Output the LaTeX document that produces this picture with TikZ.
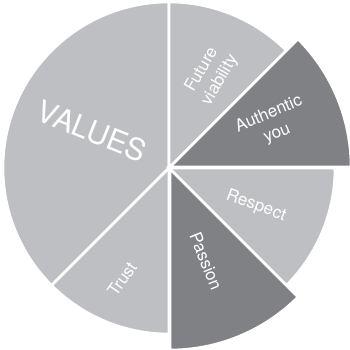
\documentclass[tikz,border=0pt]{standalone}
\usepackage{fontspec}
\setmainfont{TeX Gyre Heros}
\usepackage{tikz}
\definecolor{segpale}{RGB}{190, 191, 194}
\definecolor{segdark}{RGB}{128, 129, 133}

\tikzset{
	slice/.style={fill=#1, draw=white, line width=2.6pt, line join=miter},
	slicetext/.style={text=white, align=center, inner sep=0pt, font=\fontsize{17}{21}\selectfont}
}

\begin{document}
\begin{tikzpicture}[x=1pt, y=1pt]
	
	% --- Frame of the picture ---
	\useasboundingbox (0, 0) rectangle (350, 349);
	\clip (0, 0) rectangle (350, 349);
	\coordinate (hub) at (169, 181);
	
	% --- Pale slices ---
	\filldraw[slice=segpale] (hub) -- ++(90:166) arc[start angle=90, end angle=225, radius=166] -- cycle;
	\filldraw[slice=segpale] (hub) -- ++(225:166) arc[start angle=225, end angle=270, radius=166] -- cycle;
	\filldraw[slice=segpale] (hub) -- ++(45:166) arc[start angle=45, end angle=90, radius=166] -- cycle;
	\filldraw[slice=segpale] (hub) -- ++(-45:166) arc[start angle=-45, end angle=0, radius=166] -- cycle;
	
	% --- Dark slices, pulled out ---
	\filldraw[slice=segdark] ([shift={(1, 1)}]hub) -- ++(0:181) arc[start angle=0, end angle=45, radius=181] -- cycle;
	\filldraw[slice=segdark] ([shift={(1, -1)}]hub) -- ++(-90:181) arc[start angle=-90, end angle=-45, radius=181] -- cycle;
	
	% --- Labels ---
	\node[slicetext, font=\fontsize{30}{30}\selectfont, rotate=-22] (values) at (92, 218) {VALUES};
	\node[slicetext, rotate=60] (future) at (211, 274) {Future\\viability};
	\node[slicetext, rotate=23] (authentic) at (273, 225) {Authentic\\you};
	\node[slicetext, rotate=-20] (respect) at (256, 143) {Respect};
	\node[slicetext, rotate=-68] (passion) at (206, 88) {Passion};
	\node[slicetext, rotate=55] (trust) at (122, 70) {Trust};
	
\end{tikzpicture}
\end{document}
